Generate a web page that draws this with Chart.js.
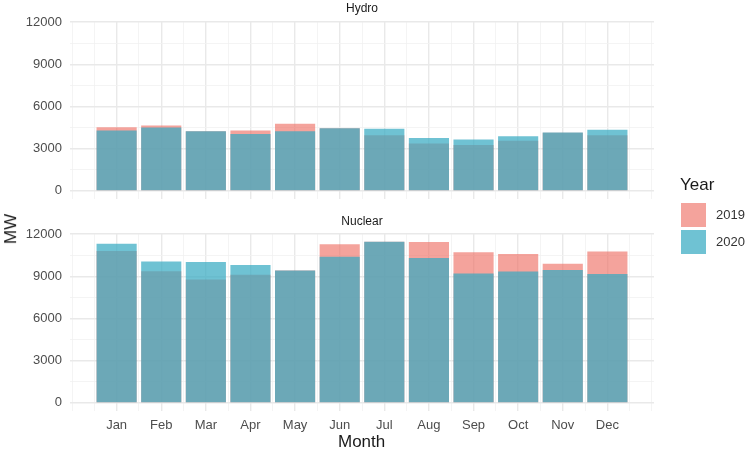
<!DOCTYPE html>
<html>
<head>
<meta charset="utf-8">
<script src="https://cdn.jsdelivr.net/npm/chart.js@4.4.1/dist/chart.umd.min.js"></script>
<style>
  body { margin: 0; width: 748px; height: 452px; background: #fff; position: relative; overflow: hidden;
         font-family: "Liberation Sans", Arial, sans-serif; }
  .abs { position: absolute; }
  .strip { font-size: 12px; color: #1a1a1a; width: 584px; left: 70px; text-align: center; }
  .title { font-size: 17px; color: #1a1a1a; }
  .key { width: 25px; height: 24px; left: 681px; }
  .keylab { font-size: 13px; color: #333; left: 716px; }
</style>
</head>
<body>
<div class="abs" style="left:0;top:0;width:748px;height:219px"><canvas id="hydro"></canvas></div>
<div class="abs" style="left:0;top:212px;width:748px;height:236px"><canvas id="nuclear"></canvas></div>

<div class="abs strip" style="top:1px">Hydro</div>
<div class="abs strip" style="top:214px">Nuclear</div>
<div class="abs title" style="left:338px;top:432px">Month</div>
<div class="abs title" style="left:-4px;top:219px;transform:rotate(-90deg);">MW</div>

<div class="abs title" style="left:680px;top:175px">Year</div>
<div class="abs key" style="top:203px;background:rgba(238,110,98,0.63)"></div>
<div class="abs key" style="top:230px;background:rgba(55,170,194,0.72)"></div>
<div class="abs keylab" style="top:207px">2019</div>
<div class="abs keylab" style="top:234px">2020</div>

<script>
const months = ['Jan', 'Feb', 'Mar', 'Apr', 'May', 'Jun', 'Jul', 'Aug', 'Sep', 'Oct', 'Nov', 'Dec'];
const yTicks = [0, 1500, 3000, 4500, 6000, 7500, 9000, 10500, 12000];

// MW by month
const hydro2019 = [4530, 4650, 4230, 4290, 4770, 4460, 3960, 3370, 3270, 3560, 4140, 3960];
const hydro2020 = [4290, 4500, 4240, 4050, 4240, 4460, 4410, 3750, 3650, 3890, 4150, 4340];
const nuclear2019 = [10790, 9350, 8760, 9110, 9400, 11270, 11450, 11430, 10700, 10580, 9890, 10750];
const nuclear2020 = [11310, 10040, 10010, 9800, 9400, 10390, 11450, 10300, 9200, 9330, 9440, 9160];

const col2019 = 'rgba(238,110,98,0.63)';
const col2020 = 'rgba(55,170,194,0.72)';

Chart.defaults.font.family = '"Liberation Sans", Arial, sans-serif';
Chart.defaults.animation = false;

function pts(vals) {
  return vals.map((v, i) => ({ x: i + 1, y: v }));
}

function gridWidth(ctx) {
  const v = ctx.tick ? ctx.tick.value : 0;
  return ctx.scale.axis === 'x'
    ? (Number.isInteger(v) && v >= 1 && v <= 12 ? 1.4 : 0.8)
    : (v % 3000 === 0 ? 1.4 : 0.8);
}
function gridColor(ctx) {
  return gridWidth(ctx) > 1 ? '#e9e9e9' : '#f1f1f1';
}

// one facet panel; the x grid has ticks every half month, so bars are 1.8 of that step (0.9 month)
function facet(id, v2019, v2020, showX) {
  new Chart(document.getElementById(id), {
    type: 'bar',
    data: {
      datasets: [
        { label: '2019', data: pts(v2019), backgroundColor: col2019, order: 1 },
        { label: '2020', data: pts(v2020), backgroundColor: col2020, order: 0 }
      ]
    },
    options: {
      responsive: true,
      maintainAspectRatio: false,
      layout: { padding: { top: 22, right: 94, left: 0, bottom: 0 } },
      datasets: { bar: { grouped: false, barPercentage: 1.8, categoryPercentage: 1 } },
      plugins: { legend: { display: false }, tooltip: { enabled: false } },
      scales: {
        x: {
          type: 'linear',
          min: -0.045,
          max: 13.045,
          offset: false,
          afterBuildTicks: s => {
            const t = [];
            for (let v = 0; v <= 13; v += 0.5) t.push({ value: v });
            s.ticks = t;
          },
          afterFit: s => { s.height = showX ? 37 : 20; },
          border: { display: false },
          grid: { offset: false, drawTicks: false, lineWidth: gridWidth, color: gridColor },
          ticks: {
            display: showX,
            autoSkip: false,
            maxRotation: 0,
            padding: 7,
            color: '#4d4d4d',
            font: { size: 13 },
            callback: v => (Number.isInteger(v) && v >= 1 && v <= 12) ? months[v - 1] : ''
          }
        },
        y: {
          min: -575,
          max: 12000,
          afterBuildTicks: s => { s.ticks = yTicks.map(v => ({ value: v })); },
          afterFit: s => { s.width = 70; },
          border: { display: false },
          grid: { drawTicks: false, lineWidth: gridWidth, color: gridColor },
          ticks: {
            padding: 8,
            color: '#4d4d4d',
            font: { size: 13 },
            callback: v => v % 3000 === 0 ? v : ''
          }
        }
      }
    }
  });
}

facet('hydro', hydro2019, hydro2020, false);
facet('nuclear', nuclear2019, nuclear2020, true);
</script>
</body>
</html>
